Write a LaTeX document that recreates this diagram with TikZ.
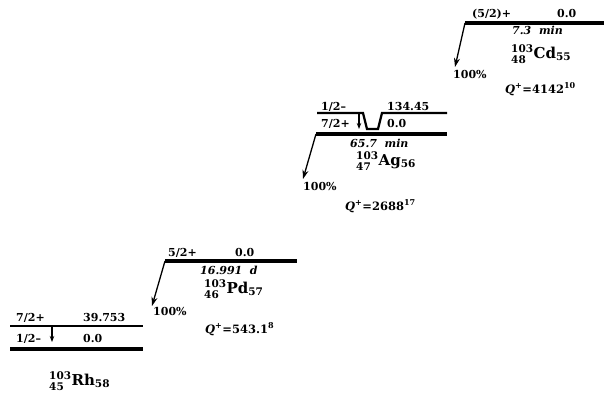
\documentclass[tikz,border=0pt]{standalone}
\usepackage{amsmath}
\usepackage{fontspec}
\setmainfont{DejaVu Serif}
\usetikzlibrary{arrows.meta}
\newcommand{\nuc}[4]{${}^{\text{#1}}_{\text{#2}}$#3$_{\text{#4}}$}
\newcommand{\qv}[2]{\textit{Q}\textsuperscript{+}=#1\textsuperscript{#2}}
\tikzset{
  lb/.style={anchor=base west, inner sep=0pt, font=\fontsize{11}{13}\selectfont\bfseries},
  hl/.style={lb, font=\fontsize{11}{13}\selectfont\bfseries\itshape},
  qq/.style={lb, font=\fontsize{11.5}{13}\selectfont\bfseries},
  nc/.style={lb, font=\fontsize{15}{17}\selectfont\bfseries},
  lv/.style={line width=2.2pt},
  gs/.style={line width=4.2pt},
  dk/.style={-{Stealth[length=9pt, width=6pt]}, line width=1.3pt},
  gm/.style={-{Stealth[length=6pt, width=4.5pt]}, line width=1.1pt},
}
\begin{document}
\begin{tikzpicture}[x=1pt, y=-1pt]
\useasboundingbox (0,0) rectangle (604,394);

% 103Cd
\coordinate (cdl) at (465,23);
\coordinate (cdr) at (604,23);
\coordinate (cdt) at (455,67);
\node[lb] (cdsp) at (472,17) {(5/2)+};
\node[lb] (cden) at (557,17) {0.0};
\node[hl] (cdhl) at (512,34) {7.3~~min};
\node[nc] (cdnu) at (511,58) {\nuc{103}{48}{Cd}{55}};
\node[lb] (cdbr) at (453,78) {100\%};
\node[qq] (cdq) at (505,93) {\qv{4142}{10}};
\draw[gs] (cdl) -- (cdr);
\draw[dk] (cdl) -- (cdt);

% 103Ag
\coordinate (agil) at (317,113);
\coordinate (agia) at (363,113);
\coordinate (agib) at (367,129);
\coordinate (agic) at (378,129);
\coordinate (agid) at (382,113);
\coordinate (agir) at (447,113);
\coordinate (agl) at (316,134);
\coordinate (agr) at (447,134);
\coordinate (aggt) at (359,113);
\coordinate (aggb) at (359,129);
\coordinate (agt) at (303,179);
\node[lb] (agisp) at (321,110) {1/2\textendash};
\node[lb] (agien) at (387,110) {134.45};
\node[lb] (agsp) at (321,127) {7/2+};
\node[lb] (agen) at (387,127) {0.0};
\node[hl] (aghl) at (350,147) {65.7~~min};
\node[nc] (agnu) at (356,165) {\nuc{103}{47}{Ag}{56}};
\node[lb] (agbr) at (303,190) {100\%};
\node[qq] (agq) at (345,210) {\qv{2688}{17}};
\draw[lv] (agil) -- (agia) -- (agib) -- (agic) -- (agid) -- (agir);
\draw[gm] (aggt) -- (aggb);
\draw[gs] (agl) -- (agr);
\draw[dk] (agl) -- (agt);

% 103Pd
\coordinate (pdl) at (165,261);
\coordinate (pdr) at (297,261);
\coordinate (pdt) at (152,306);
\node[lb] (pdsp) at (168,256) {5/2+};
\node[lb] (pden) at (235,256) {0.0};
\node[hl] (pdhl) at (200,274) {16.991~~d};
\node[nc] (pdnu) at (204,293) {\nuc{103}{46}{Pd}{57}};
\node[lb] (pdbr) at (153,315) {100\%};
\node[qq] (pdq) at (205,333) {\qv{543.1}{8}};
\draw[gs] (pdl) -- (pdr);
\draw[dk] (pdl) -- (pdt);

% 103Rh
\coordinate (rhil) at (10,326);
\coordinate (rhir) at (143,326);
\coordinate (rhl) at (10,349);
\coordinate (rhr) at (143,349);
\coordinate (rhgt) at (52,326);
\coordinate (rhgb) at (52,342);
\node[lb] (rhisp) at (16,321) {7/2+};
\node[lb] (rhien) at (83,321) {39.753};
\node[lb] (rhsp) at (16,342) {1/2\textendash};
\node[lb] (rhen) at (83,342) {0.0};
\node[nc] (rhnu) at (49,385) {\nuc{103}{45}{Rh}{58}};
\draw[lv] (rhil) -- (rhir);
\draw[gm] (rhgt) -- (rhgb);
\draw[gs] (rhl) -- (rhr);
\end{tikzpicture}
\end{document}
